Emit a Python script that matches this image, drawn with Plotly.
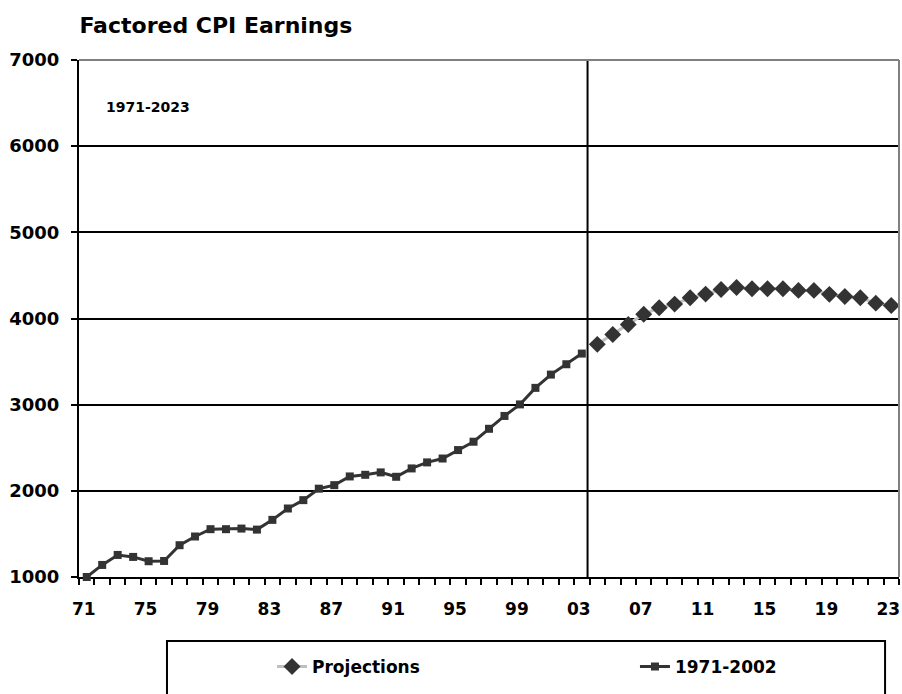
import plotly.graph_objects as go

# Factored CPI earnings, historical series and projections
hist_years = list(range(1971, 2004))
hist_values = [1000, 1140, 1256, 1233, 1183, 1186, 1369, 1470, 1555, 1555,
               1562, 1550, 1663, 1795, 1892, 2025, 2066, 2167, 2186, 2214,
               2163, 2260, 2330, 2375, 2473, 2570, 2720, 2869, 3003, 3195,
               3349, 3469, 3593]

proj_years = list(range(2004, 2024))
proj_values = [3700, 3814, 3930, 4050, 4124, 4167, 4240, 4283, 4337, 4360,
               4345, 4345, 4345, 4326, 4326, 4280, 4256, 4241, 4178, 4151]

tick_years = [1971, 1975, 1979, 1983, 1987, 1991, 1995, 1999, 2003,
              2007, 2011, 2015, 2019, 2023]
tick_labels = ["71", "75", "79", "83", "87", "91", "95", "99", "03",
               "07", "11", "15", "19", "23"]

FONT = "DejaVu Sans"
DARK = "#333333"


def bold(size):
    return dict(family=FONT, size=size, color="black", weight="bold")


fig = go.Figure()

fig.add_trace(go.Scatter(
    x=proj_years, y=proj_values, name="Projections",
    mode="lines+markers",
    line=dict(color="#c0c0c0", width=3),
    marker=dict(symbol="diamond", size=13, color=DARK),
    cliponaxis=False, legend="legend",
))

fig.add_trace(go.Scatter(
    x=hist_years, y=hist_values, name="1971-2002",
    mode="lines+markers",
    line=dict(color=DARK, width=3),
    marker=dict(symbol="square", size=8, color=DARK),
    cliponaxis=False, legend="legend2",
))

# divider between history and projections
fig.add_shape(type="line", xref="x", yref="y", x0=2003.37, x1=2003.37,
              y0=1000, y1=7000, line=dict(color="black", width=2), layer="above")

# plot area border (top and right)
fig.add_shape(type="line", xref="paper", yref="paper", x0=0, x1=1, y0=1, y1=1,
              line=dict(color="#808080", width=2), layer="above")
fig.add_shape(type="line", xref="paper", yref="paper", x0=1, x1=1, y0=0, y1=1,
              line=dict(color="#808080", width=2), layer="above")

# legend frame
fig.add_shape(type="rect", xref="paper", yref="paper",
              x0=0.1073, x1=0.983, y0=-0.1238, y1=-0.30,
              line=dict(color="black", width=2), fillcolor="rgba(0,0,0,0)")

fig.add_annotation(text="1971-2023", xref="paper", yref="paper",
                   x=0.030, y=0.909, xanchor="left", yanchor="middle",
                   showarrow=False, font=bold(14))

legend_common = dict(orientation="h", xref="paper", yref="paper",
                     xanchor="left", y=-0.174, yanchor="middle",
                     font=bold(17), bgcolor="rgba(0,0,0,0)", borderwidth=0)

fig.update_layout(
    width=902, height=694,
    margin=dict(l=79, r=3, t=60, b=117, autoexpand=False),
    paper_bgcolor="white", plot_bgcolor="white",
    title=dict(text="Factored CPI Earnings", x=0.088, xanchor="left",
               y=0.964, yanchor="middle", xref="container", yref="container",
               font=bold(22)),
    showlegend=True,
    legend=dict(x=0.2354, **legend_common),
    legend2=dict(x=0.678, **legend_common),
    xaxis=dict(
        range=[1970.5, 2023.5], tickvals=tick_years, ticktext=tick_labels,
        ticks="outside", ticklen=6, tickcolor="rgba(0,0,0,0)",
        minor=dict(tick0=1970.5, dtick=1, ticks="outside", ticklen=6,
                   tickwidth=2, tickcolor="black", showgrid=False),
        showgrid=False, zeroline=False,
        showline=True, linecolor="black", linewidth=2,
        tickfont=bold(17), ticklabelstandoff=10, ticklabelshift=-3,
        ticklabeloverflow="allow", layer="below traces",
    ),
    yaxis=dict(
        range=[1000, 7000], dtick=1000, tickformat="d",
        ticks="outside", ticklen=6, tickwidth=2, tickcolor="black",
        showgrid=True, gridcolor="black", gridwidth=2, zeroline=False,
        showline=True, linecolor="black", linewidth=2,
        tickfont=bold(18), ticklabelstandoff=8,
    ),
)

fig.write_html("out.html")
